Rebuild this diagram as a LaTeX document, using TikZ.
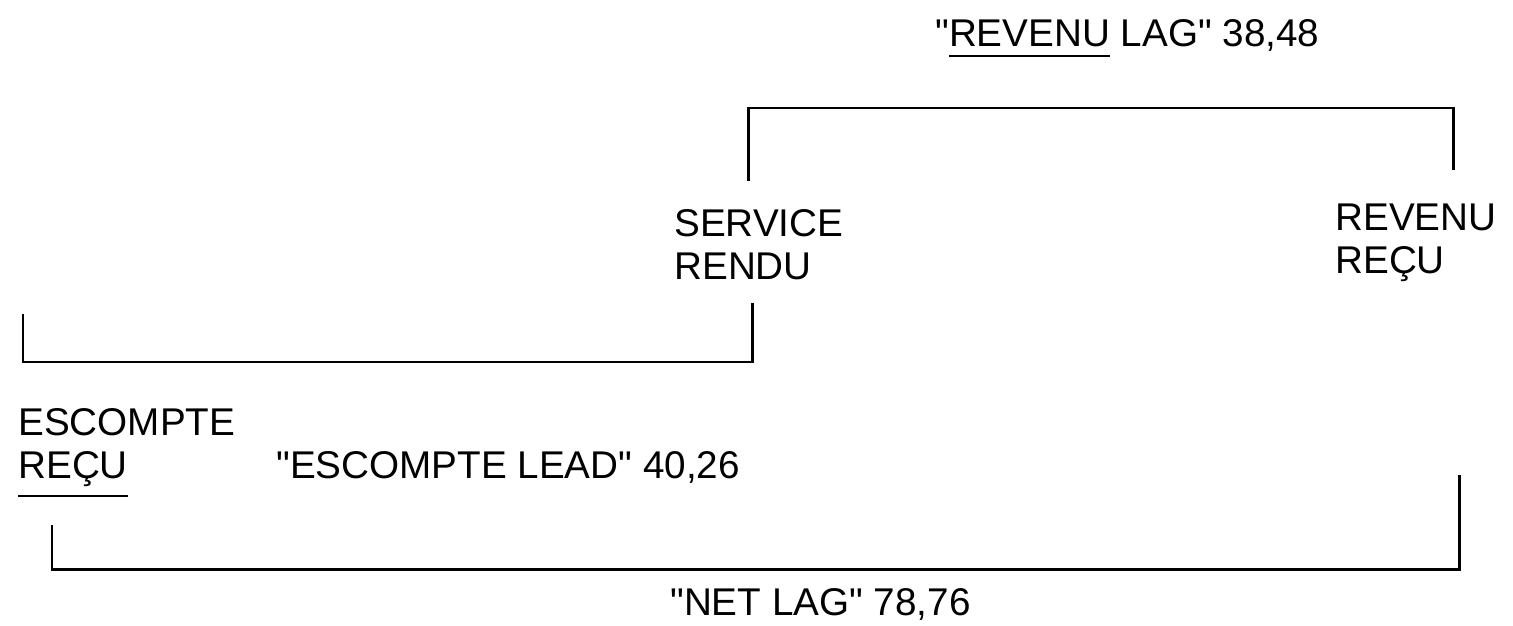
\documentclass[tikz,border=0pt]{standalone}
\usepackage{fontspec}
\setmainfont{Liberation Sans}[Ligatures=TeXOff]
\usetikzlibrary{positioning}
\newcommand{\lowrule}[2]{\setbox0=\hbox{#2}\rlap{\rule[-#1]{\wd0}{1.3pt}}\box0\relax}

\begin{document}
\begin{tikzpicture}[x=0.02cm,y=-0.02cm,
  lbl/.style={inner sep=0pt,anchor=base west,align=left,font=\fontsize{22}{24.4}\selectfont},
  bracket/.style={line width=1.7pt}]
\useasboundingbox (0,0) rectangle (1513,625);
% labels (base = last line)
\node[lbl] (revlag) at (935,47) {"\lowrule{5.6pt}{REVENU} LAG" 38,48};
\node[lbl] (service) at (674,279) {SERVICE\\RENDU};
\node[lbl] (revrecu) at (1335,273) {REVENU\\REÇU};
\node[lbl] (escrecu) at (18,478) {ESCOMPTE\\\lowrule{10.8pt}{REÇU}};
\node[lbl] (esclead) at (276,478) {"ESCOMPTE LEAD" 40,26};
\node[lbl] (netlag) at (670,615) {"NET LAG" 78,76};
% bracket ends
\coordinate (svtop) at (748,181);
\coordinate (rrtop) at (1453,170);
\coordinate (svbot) at (752,303);
\coordinate (ertop) at (23,314);
\coordinate (erbot) at (52,525);
\coordinate (rrbot) at (1459,475);
\draw[bracket] (svtop) -- ++(0,-73) -| (rrtop);
\draw[bracket] (svbot) -- ++(0,59) -| (ertop);
\draw[bracket] (erbot) -- ++(0,44) -| (rrbot);
\end{tikzpicture}
\end{document}
